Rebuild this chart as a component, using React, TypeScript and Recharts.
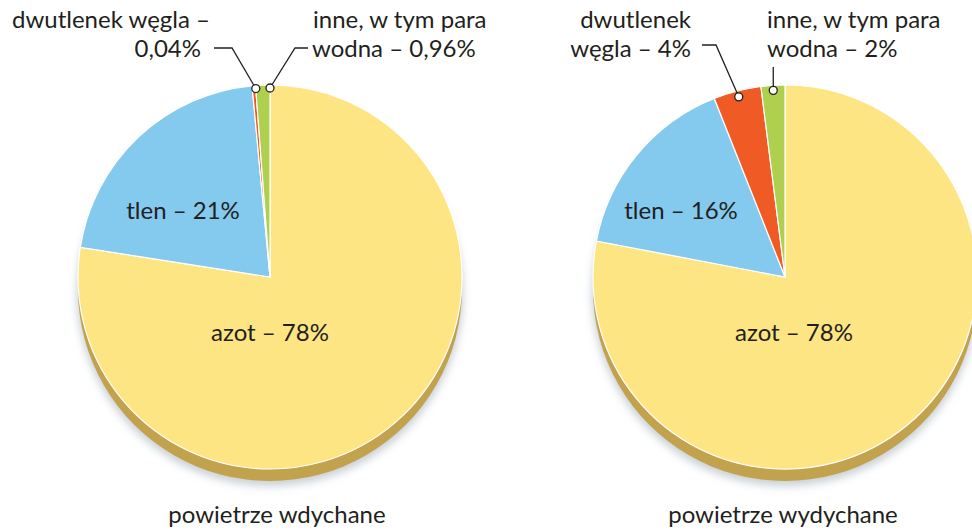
import React from "react";
import { PieChart, Pie, Cell } from "recharts";

// ---- data ----
const gasNames = ["azot", "tlen", "dwutlenek węgla", "inne, w tym para wodna"];
const inhaledValues = [78, 21, 0.04, 0.96];
const exhaledValues = [78, 16, 4, 2];
const gasColors = ["#FDE583", "#84C9EE", "#F05A24", "#AFCF4E"];
const chartTitles = ["powietrze wdychane", "powietrze wydychane"];
const inhaledLabels = ["azot – 78%", "tlen – 21%", ["dwutlenek węgla –", "0,04%"], ["inne, w tym para", "wodna – 0,96%"]];
const exhaledLabels = ["azot – 78%", "tlen – 16%", ["dwutlenek", "węgla – 4%"], ["inne, w tym para", "wodna – 2%"]];

const W = 972;
const H = 531;
const R = 192;
const LEFT = { cx: 270, cy: 277 };
const RIGHT = { cx: 785, cy: 277 };
const MIN_ANGLE_LEFT = 0.9;
const FONT = "Lato, 'Open Sans', sans-serif";
const TXT = "#231F20";

const toData = (vals: number[]) => gasNames.map((name, i) => ({ name, value: vals[i] }));

// replicate recharts' angle computation (startAngle 90, endAngle -270, minAngle)
// pos: 0 = slice start, 0.5 = middle, 1 = slice end (clockwise)
function sliceAngle(vals: number[], idx: number, minAngle: number, pos: number) {
  const sum = vals.reduce((a, b) => a + b, 0);
  const nz = vals.filter((v) => v > 0).length;
  const real = 360 - nz * minAngle;
  let start = 90;
  for (let i = 0; i < vals.length; i++) {
    const ang = minAngle + (vals[i] / sum) * real;
    if (i === idx) return start - ang * pos;
    start -= ang;
  }
  return 90;
}
function polar(cx: number, cy: number, r: number, deg: number) {
  const rad = (deg * Math.PI) / 180;
  return { x: cx + r * Math.cos(rad), y: cy - r * Math.sin(rad) };
}

export default function App() {
  const leftData = toData(inhaledValues);
  const rightData = toData(exhaledValues);
  const shadowData = [{ name: "s", value: 1 }];

  const lRed = polar(LEFT.cx, LEFT.cy, R - 3, sliceAngle(inhaledValues, 2, MIN_ANGLE_LEFT, 1));
  const lGreen = polar(LEFT.cx, LEFT.cy, R - 3, sliceAngle(inhaledValues, 3, MIN_ANGLE_LEFT, 1));
  const rRed = polar(RIGHT.cx, RIGHT.cy, R - 6, sliceAngle(exhaledValues, 2, 0, 0.5));
  const rGreen = polar(RIGHT.cx, RIGHT.cy, R - 5, sliceAngle(exhaledValues, 3, 0, 0.5));

  const textStyle: React.CSSProperties = { fontFamily: FONT, fontSize: 24, fill: TXT };
  const lineProps = { stroke: "#231F20", strokeWidth: 1.3, fill: "none" };
  const dot = (p: { x: number; y: number }) => (
    <circle cx={p.x} cy={p.y} r={4} fill="#fff" stroke="#231F20" strokeWidth={1.3} />
  );

  const renderPies = (data: any[], c: { cx: number; cy: number }, minAngle: number, key: string) => [
    <Pie key={key + "g"} data={shadowData} dataKey="value" cx={c.cx} cy={c.cy + 16} outerRadius={R + 1}
      startAngle={90} endAngle={-270} stroke="none" isAnimationActive={false}>
      <Cell fill="#9AA8B4" fillOpacity={0.55} style={{ filter: "url(#pieBlur)" }} />
    </Pie>,
    <Pie key={key + "s"} data={shadowData} dataKey="value" cx={c.cx} cy={c.cy + 12} outerRadius={R}
      startAngle={90} endAngle={-270} stroke="none" isAnimationActive={false}>
      <Cell fill="#C2A24C" />
    </Pie>,
    <Pie key={key + "m"} data={data} dataKey="value" cx={c.cx} cy={c.cy} outerRadius={R}
      startAngle={90} endAngle={-270} minAngle={minAngle} stroke="#fff" strokeWidth={1.2}
      isAnimationActive={false}>
      {data.map((d, i) => (
        <Cell key={i} fill={gasColors[i]} />
      ))}
    </Pie>,
  ];

  return (
    <div style={{ position: "absolute", left: 0, top: 0, width: W, height: H, background: "#fff", overflow: "hidden" }}>
      <svg width={0} height={0} style={{ position: "absolute" }}>
        <defs>
          <filter id="pieBlur" x="-20%" y="-20%" width="140%" height="140%">
            <feGaussianBlur stdDeviation="4" />
          </filter>
        </defs>
      </svg>
      <PieChart width={W} height={H} margin={{ top: 0, right: 0, bottom: 0, left: 0 }}>
        {renderPies(leftData, LEFT, MIN_ANGLE_LEFT, "l")}
        {renderPies(rightData, RIGHT, 0, "r")}
      </PieChart>
      <svg width={W} height={H} style={{ position: "absolute", left: 0, top: 0 }}>
        {/* left pie labels */}
        <text x={LEFT.cx - 87} y={LEFT.cy - 58} textAnchor="middle" style={textStyle}>{inhaledLabels[1] as string}</text>
        <text x={LEFT.cx} y={LEFT.cy + 64} textAnchor="middle" style={textStyle}>{inhaledLabels[0] as string}</text>
        <text x={210} y={28} textAnchor="end" style={textStyle}>{(inhaledLabels[2] as string[])[0]}</text>
        <text x={201} y={57} textAnchor="end" style={textStyle}>{(inhaledLabels[2] as string[])[1]}</text>
        <polyline points={`${lRed.x},${lRed.y} 232,48 214,48`} {...lineProps} />
        {dot(lRed)}
        <text x={313} y={28} style={textStyle}>{(inhaledLabels[3] as string[])[0]}</text>
        <text x={312} y={57} style={textStyle}>{(inhaledLabels[3] as string[])[1]}</text>
        <polyline points={`${lGreen.x},${lGreen.y} 295,48 308,48`} {...lineProps} />
        {dot(lGreen)}
        <text x={277} y={523} textAnchor="middle" style={textStyle}>{chartTitles[0]}</text>

        {/* right pie labels */}
        <text x={RIGHT.cx - 104} y={RIGHT.cy - 58} textAnchor="middle" style={textStyle}>{exhaledLabels[1] as string}</text>
        <text x={RIGHT.cx + 9} y={RIGHT.cy + 64} textAnchor="middle" style={textStyle}>{exhaledLabels[0] as string}</text>
        <text x={691} y={28} textAnchor="end" style={textStyle}>{(exhaledLabels[2] as string[])[0]}</text>
        <text x={691} y={57} textAnchor="end" style={textStyle}>{(exhaledLabels[2] as string[])[1]}</text>
        <polyline points={`${rRed.x},${rRed.y} 716,45 702,45`} {...lineProps} />
        {dot(rRed)}
        <text x={767} y={28} style={textStyle}>{(exhaledLabels[3] as string[])[0]}</text>
        <text x={767} y={57} style={textStyle}>{(exhaledLabels[3] as string[])[1]}</text>
        <polyline points={`${rGreen.x},${rGreen.y} ${rGreen.x},67`} {...lineProps} />
        {dot(rGreen)}
        <text x={783} y={523} textAnchor="middle" style={textStyle}>{chartTitles[1]}</text>
      </svg>
    </div>
  );
}
